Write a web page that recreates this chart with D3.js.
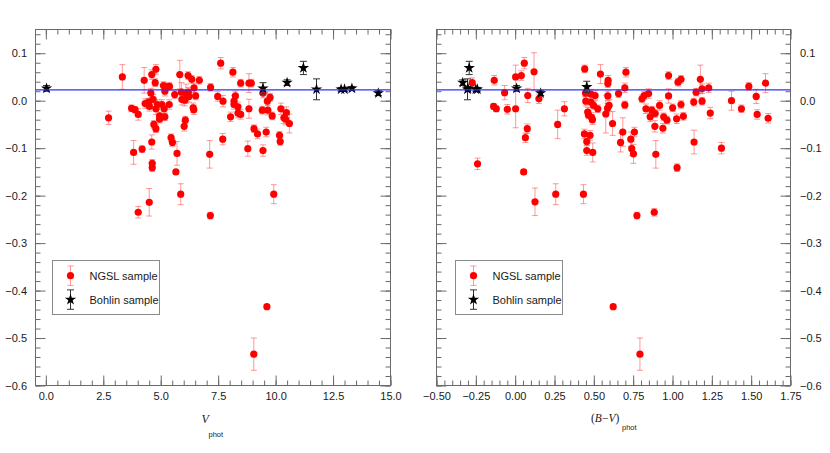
<!DOCTYPE html>
<html>
<head>
<meta charset="utf-8">
<script src="https://cdn.jsdelivr.net/npm/d3@7"></script>
<style>
  html, body { margin: 0; padding: 0; background: #fff; }
  svg { display: block; font-family: "Liberation Sans", Arial, Helvetica, sans-serif; }
</style>
</head>
<body>
<svg id="chart" width="830" height="453"></svg>
<script>
// ---------------- DATA ----------------
const yMajorTicks = [-0.6, -0.5, -0.4, -0.3, -0.2, -0.1, 0.0, 0.1];
const vMajorTicks = [0, 2.5, 5, 7.5, 10, 12.5, 15];
const bvMajorTicks = [-0.5, -0.25, 0, 0.25, 0.5, 0.75, 1.0, 1.25, 1.5, 1.75];
const meanOffset = 0.023;
const legendLabels = ["NGSL sample", "Bohlin sample"];

// [V_phot, difference, error]
const ngslV = [
  [3.33,0.050,0.026],[2.73,-0.036,0.014],[3.73,-0.016,0.007],[3.88,-0.019,0.006],[4.02,-0.029,0.012],
  [3.82,-0.109,0.025],[4.02,-0.235,0.012],[4.19,-0.102,0.007],[4.28,0.043,0.027],[4.32,-0.006,0.010],
  [4.47,-0.003,0.008],[4.50,-0.214,0.029],[4.51,-0.012,0.010],[4.57,0.016,0.010],[4.61,0.055,0.010],
  [4.61,-0.087,0.015],[4.63,-0.132,0.008],[4.63,-0.141,0.008],[4.67,0.003,0.010],[4.70,-0.050,0.008],
  [4.76,0.038,0.008],[4.79,0.066,0.010],[4.79,-0.059,0.008],[4.79,-0.017,0.012],[4.86,-0.008,0.010],
  [4.95,-0.032,0.008],[4.95,-0.039,0.008],[5.05,-0.008,0.010],[5.12,0.032,0.008],[5.15,-0.017,0.010],
  [5.18,0.020,0.010],[5.18,-0.034,0.008],[5.24,0.029,0.008],[5.37,-0.008,0.010],[5.38,0.030,0.008],
  [5.45,-0.078,0.008],[5.51,-0.088,0.008],[5.61,0.013,0.008],[5.66,-0.150,0.004],[5.71,-0.111,0.025],
  [5.83,0.055,0.030],[5.87,-0.197,0.022],[5.90,0.018,0.020],[5.92,0.003,0.012],[6.02,-0.054,0.010],
  [6.05,0.001,0.012],[6.07,-0.041,0.008],[6.10,0.015,0.020],[6.19,0.053,0.008],[6.20,0.018,0.010],
  [6.23,0.009,0.012],[6.35,0.045,0.008],[6.41,-0.015,0.010],[6.44,-0.019,0.010],[6.45,0.027,0.010],
  [6.52,0.010,0.008],[6.68,0.043,0.008],[7.13,-0.113,0.029],[7.16,-0.242,0.007],[7.17,0.028,0.008],
  [7.48,0.009,0.010],[7.61,0.079,0.012],[7.70,-0.081,0.012],[7.71,-0.001,0.012],[8.04,-0.034,0.010],
  [8.14,0.060,0.010],[8.19,-0.001,0.012],[8.19,-0.008,0.010],[8.25,0.010,0.010],[8.36,-0.013,0.010],
  [8.36,-0.026,0.010],[8.48,-0.029,0.010],[8.48,0.037,0.008],[8.79,-0.101,0.016],[8.84,0.037,0.020],
  [8.94,0.037,0.008],[8.84,-0.017,0.020],[9.06,-0.059,0.008],[9.21,-0.070,0.010],[9.42,-0.020,0.008],
  [9.45,-0.105,0.012],[9.45,0.016,0.010],[9.59,-0.066,0.010],[9.64,-0.001,0.020],[9.66,-0.020,0.010],
  [9.76,0.007,0.008],[9.85,-0.032,0.008],[9.92,-0.197,0.020],[10.17,-0.073,0.008],[10.20,-0.086,0.008],
  [10.23,-0.017,0.012],[10.36,-0.036,0.012],[10.47,-0.025,0.012],[10.43,-0.039,0.012],[10.60,-0.048,0.020],
  [9.62,-0.434,0.004],[9.05,-0.534,0.034]
];

// [(B-V)_phot, difference, error]
const ngslBV = [
  [-0.273,0.038,0.010],[-0.239,-0.133,0.012],[-0.133,0.043,0.010],[-0.137,-0.012,0.006],[-0.120,-0.017,0.006],
  [-0.067,0.017,0.015],[-0.050,-0.018,0.010],[0.003,0.050,0.025],[0.003,-0.017,0.040],[0.039,0.053,0.010],
  [0.058,0.079,0.012],[0.054,-0.150,0.005],[0.065,-0.078,0.010],[0.077,-0.059,0.010],[0.080,0.011,0.015],
  [0.120,0.061,0.040],[0.126,-0.213,0.029],[0.151,0.004,0.010],[0.258,-0.197,0.022],[0.270,-0.050,0.030],
  [0.313,-0.017,0.015],[0.434,-0.197,0.020],[0.442,0.067,0.008],[0.447,0.016,0.008],[0.449,-0.001,0.010],
  [0.440,-0.070,0.010],[0.455,-0.086,0.008],[0.455,-0.105,0.010],[0.461,-0.024,0.010],[0.466,-0.030,0.008],
  [0.476,-0.073,0.010],[0.481,0.014,0.010],[0.481,-0.003,0.012],[0.485,-0.035,0.010],[0.491,-0.040,0.010],
  [0.493,-0.109,0.020],[0.498,-0.010,0.008],[0.508,0.011,0.010],[0.525,-0.017,0.008],[0.542,0.056,0.020],
  [0.591,0.043,0.010],[0.589,0.036,0.008],[0.589,0.010,0.010],[0.597,-0.010,0.012],[0.587,-0.016,0.010],
  [0.576,-0.028,0.040],[0.619,-0.048,0.025],[0.657,0.015,0.008],[0.670,-0.088,0.020],[0.684,-0.066,0.030],
  [0.697,0.027,0.010],[0.697,-0.009,0.008],[0.704,0.060,0.010],[0.735,-0.081,0.015],[0.741,-0.101,0.015],
  [0.752,-0.112,0.020],[0.758,-0.066,0.010],[0.774,-0.242,0.007],[0.793,-0.534,0.034],[0.623,-0.434,0.004],
  [0.806,0.004,0.008],[0.820,0.011,0.008],[0.848,0.015,0.010],[0.831,-0.017,0.010],[0.869,-0.020,0.008],
  [0.858,-0.034,0.010],[0.884,-0.235,0.008],[0.890,-0.027,0.008],[0.888,-0.054,0.012],[0.894,-0.113,0.029],
  [0.918,-0.010,0.010],[0.939,-0.058,0.010],[0.944,-0.034,0.008],[0.965,-0.041,0.008],[0.975,0.053,0.008],
  [0.975,0.010,0.015],[1.001,-0.015,0.008],[1.029,-0.141,0.008],[1.035,0.039,0.008],[1.054,0.045,0.008],
  [1.026,-0.038,0.010],[1.054,-0.008,0.008],[1.069,-0.033,0.008],[1.137,-0.087,0.025],[1.135,-0.003,0.008],
  [1.150,0.018,0.008],[1.177,0.045,0.030],[1.188,0.025,0.010],[1.188,-0.001,0.008],[1.230,0.027,0.010],
  [1.240,-0.026,0.012],[1.311,-0.100,0.012],[1.375,0.000,0.020],[1.438,-0.017,0.008],[1.485,0.030,0.008],
  [1.532,0.009,0.015],[1.538,-0.029,0.010],[1.591,0.037,0.020],[1.608,-0.037,0.010]
];

const bohlinV = [
  [0.03,0.026,0.006],[9.45,0.026,0.012],[10.5,0.038,0.006],[11.21,0.069,0.014],[11.78,0.024,0.022],
  [12.85,0.024,0.004],[13.0,0.024,0.004],[13.32,0.026,0.004],[14.47,0.016,0.005]
];
const bohlinBV = [
  [0.009,0.026,0.006],[0.455,0.029,0.012],[-0.333,0.038,0.006],[-0.292,0.069,0.014],[-0.303,0.024,0.022],
  [-0.240,0.024,0.004],[-0.250,0.024,0.004],[-0.300,0.026,0.004],[0.162,0.016,0.005]
];

// ---------------- DRAWING ----------------
const svg = d3.select("#chart");
const plotTop = 29.5, plotBottom = 385.5;
const frameColor = "#6a6a6a";
const ngslColor = "#ff0000";
const ngslErrColor = "rgba(255,70,70,0.55)";
const bohlinErrColor = "#333";
const lineColor = "#2f2fff";

function minorRange(a, b, step) {
  const out = [];
  const n = Math.round((b - a) / step);
  for (let i = 0; i <= n; i++) out.push(+(a + i * step).toFixed(6));
  return out;
}

function drawPanel(cfg) {
  const x = d3.scaleLinear().domain(cfg.xDomain).range([cfg.left, cfg.right]);
  const y = d3.scaleLinear().domain([-0.6, 0.15]).range([plotBottom, plotTop]);
  const g = svg.append("g");

  const xMinor = minorRange(cfg.xMinorStart, cfg.xDomain[1], cfg.xMinorStep).filter(v => v >= cfg.xDomain[0] - 1e-9);
  const yMinor = minorRange(-0.6, 0.14, 0.02);

  function styleAxis(sel) {
    sel.select(".domain").remove();
    sel.selectAll(".tick line").attr("stroke", frameColor).attr("stroke-width", 1);
    sel.selectAll(".tick text").attr("fill", "#1a1a1a").attr("font-size", 11)
       .attr("font-family", '"Liberation Sans", Arial, Helvetica, sans-serif');
  }

  g.append("g").attr("transform", `translate(0,${plotBottom})`)
    .call(d3.axisBottom(x).tickValues(cfg.xMajor).tickSize(-10).tickPadding(7).tickFormat(d3.format(cfg.xFmt)))
    .call(styleAxis);
  g.append("g").attr("transform", `translate(0,${plotBottom})`)
    .call(d3.axisBottom(x).tickValues(xMinor).tickSize(-5).tickFormat(""))
    .call(styleAxis);
  g.append("g").attr("transform", `translate(0,${plotTop})`)
    .call(d3.axisTop(x).tickValues(cfg.xMajor).tickSize(-10).tickFormat(""))
    .call(styleAxis);
  g.append("g").attr("transform", `translate(0,${plotTop})`)
    .call(d3.axisTop(x).tickValues(xMinor).tickSize(-5).tickFormat(""))
    .call(styleAxis);
  g.append("g").attr("transform", `translate(${cfg.left},0)`)
    .call(d3.axisLeft(y).tickValues(yMajorTicks).tickSize(-10).tickPadding(cfg.yLabelsLeft ? 8.5 : 0)
      .tickFormat(cfg.yLabelsLeft ? d3.format(".1f") : ""))
    .call(styleAxis);
  g.append("g").attr("transform", `translate(${cfg.left},0)`)
    .call(d3.axisLeft(y).tickValues(yMinor).tickSize(-5).tickFormat(""))
    .call(styleAxis);
  g.append("g").attr("transform", `translate(${cfg.right},0)`)
    .call(d3.axisRight(y).tickValues(yMajorTicks).tickSize(-10).tickPadding(cfg.yLabelsLeft ? 0 : 9.5)
      .tickFormat(cfg.yLabelsLeft ? "" : d3.format(".1f")))
    .call(styleAxis);
  g.append("g").attr("transform", `translate(${cfg.right},0)`)
    .call(d3.axisRight(y).tickValues(yMinor).tickSize(-5).tickFormat(""))
    .call(styleAxis);

  g.append("rect").attr("x", cfg.left).attr("y", plotTop)
    .attr("width", cfg.right - cfg.left).attr("height", plotBottom - plotTop)
    .attr("fill", "none").attr("stroke", frameColor).attr("stroke-width", 1);

  function errorBars(data, color, cap) {
    const eg = g.append("g").attr("stroke", color).attr("stroke-width", 1).attr("fill", "none");
    data.forEach(d => {
      const cx = x(d[0]), y1 = y(d[1] + d[2]), y2 = y(d[1] - d[2]);
      eg.append("line").attr("x1", cx).attr("x2", cx).attr("y1", y1).attr("y2", y2);
      eg.append("line").attr("x1", cx - cap).attr("x2", cx + cap).attr("y1", y1).attr("y2", y1);
      eg.append("line").attr("x1", cx - cap).attr("x2", cx + cap).attr("y1", y2).attr("y2", y2);
    });
  }

  errorBars(cfg.ngsl, ngslErrColor, 3);
  g.append("g").selectAll("circle").data(cfg.ngsl).join("circle")
    .attr("cx", d => x(d[0])).attr("cy", d => y(d[1])).attr("r", 3.6).attr("fill", ngslColor);

  errorBars(cfg.bohlin, bohlinErrColor, 3.5);
  const star = d3.symbol().type(d3.symbolStar).size(40);
  g.append("g").selectAll("path").data(cfg.bohlin).join("path")
    .attr("d", star).attr("transform", d => `translate(${x(d[0])},${y(d[1])})`)
    .attr("fill", "#000");

  g.append("line").attr("x1", cfg.left).attr("x2", cfg.right)
    .attr("y1", y(meanOffset)).attr("y2", y(meanOffset))
    .attr("stroke", lineColor).attr("stroke-width", 1.2);

  // legend
  const lg = g.append("g");
  lg.append("rect").attr("x", cfg.legendX).attr("y", 260.5).attr("width", 107).attr("height", 54)
    .attr("fill", "#fff").attr("stroke", "#8a8a8a").attr("stroke-width", 1);
  const mx = cfg.legendX + 18;
  const ny = 275.7;
  lg.append("line").attr("x1", mx).attr("x2", mx).attr("y1", ny - 9.7).attr("y2", ny + 9.7).attr("stroke", ngslErrColor);
  lg.append("line").attr("x1", mx - 3).attr("x2", mx + 3).attr("y1", ny - 9.7).attr("y2", ny - 9.7).attr("stroke", ngslErrColor);
  lg.append("line").attr("x1", mx - 3).attr("x2", mx + 3).attr("y1", ny + 9.7).attr("y2", ny + 9.7).attr("stroke", ngslErrColor);
  lg.append("circle").attr("cx", mx).attr("cy", ny).attr("r", 3.6).attr("fill", ngslColor);
  lg.append("text").attr("x", cfg.legendX + 37).attr("y", ny + 4).attr("font-size", 11).attr("fill", "#1a1a1a").text(legendLabels[0]);
  const by = 299.6;
  lg.append("line").attr("x1", mx).attr("x2", mx).attr("y1", by - 9.7).attr("y2", by + 9.7).attr("stroke", bohlinErrColor);
  lg.append("line").attr("x1", mx - 3.5).attr("x2", mx + 3.5).attr("y1", by - 9.7).attr("y2", by - 9.7).attr("stroke", bohlinErrColor);
  lg.append("line").attr("x1", mx - 3.5).attr("x2", mx + 3.5).attr("y1", by + 9.7).attr("y2", by + 9.7).attr("stroke", bohlinErrColor);
  lg.append("path").attr("d", star).attr("transform", `translate(${mx},${by})`).attr("fill", "#000");
  lg.append("text").attr("x", cfg.legendX + 37).attr("y", by + 4).attr("font-size", 11).attr("fill", "#1a1a1a").text(legendLabels[1]);

  cfg.title(g);
}

drawPanel({
  left: 35.5, right: 390.5, xDomain: [-0.45, 15], xMajor: vMajorTicks,
  xMinorStart: 0, xMinorStep: 0.5, xFmt: ".1f", yLabelsLeft: true,
  ngsl: ngslV, bohlin: bohlinV, legendX: 52.5,
  title: g => {
    g.append("text").attr("x", 201.5).attr("y", 423).attr("font-size", 12)
      .attr("font-style", "italic").attr("font-family", '"Liberation Serif", "Times New Roman", serif')
      .attr("fill", "#1a1a1a").text("V");
    g.append("text").attr("x", 208.5).attr("y", 437).attr("font-size", 7.5)
      .attr("fill", "#1a1a1a").text("phot");
  }
});

drawPanel({
  left: 436.5, right: 790.5, xDomain: [-0.5, 1.75], xMajor: bvMajorTicks,
  xMinorStart: -0.5, xMinorStep: 0.05, xFmt: ".2f", yLabelsLeft: false,
  ngsl: ngslBV, bohlin: bohlinBV, legendX: 455.5,
  title: g => {
    const t = g.append("text").attr("x", 591).attr("y", 422).attr("font-size", 11.5)
      .attr("font-family", '"Liberation Serif", "Times New Roman", serif').attr("fill", "#1a1a1a");
    t.append("tspan").text("(");
    t.append("tspan").attr("font-style", "italic").text("B");
    t.append("tspan").text("\u2212");
    t.append("tspan").attr("font-style", "italic").text("V");
    t.append("tspan").text(")");
    g.append("text").attr("x", 622).attr("y", 430).attr("font-size", 7.5)
      .attr("fill", "#1a1a1a").text("phot");
  }
});
</script>
</body>
</html>
